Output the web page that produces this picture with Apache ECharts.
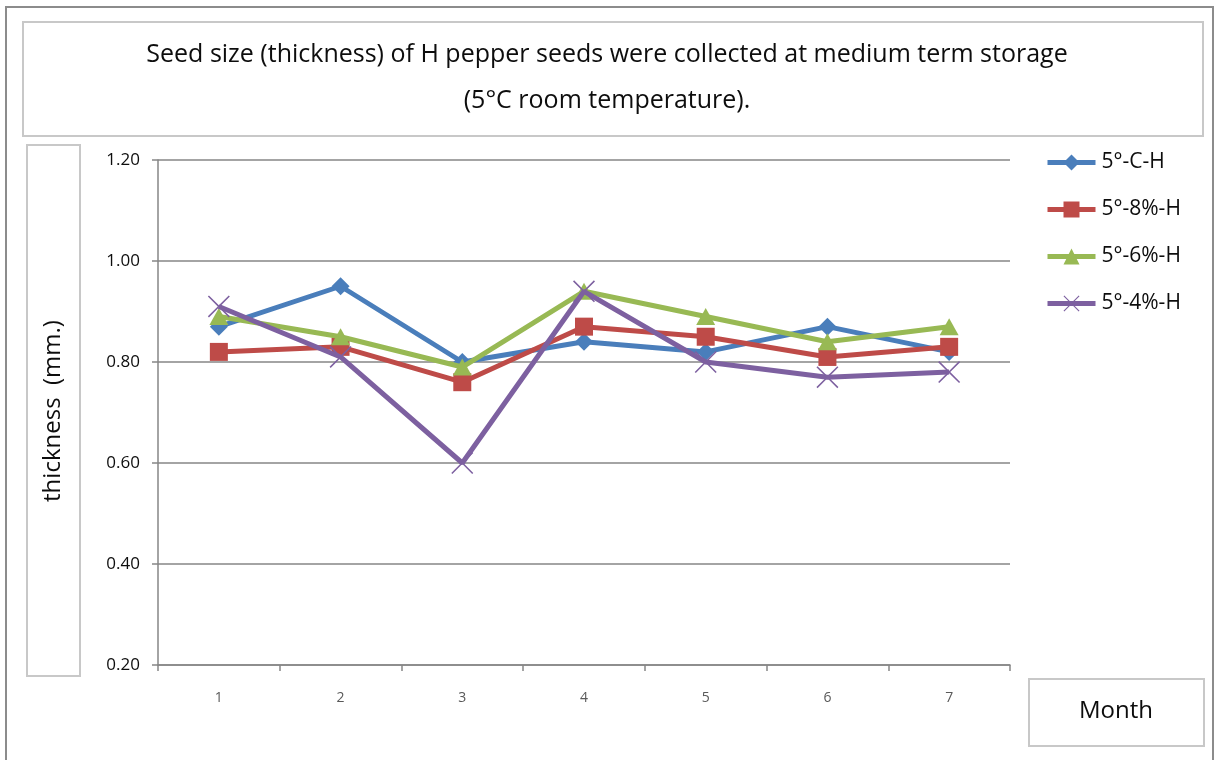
<!DOCTYPE html>
<html>
<head>
<meta charset="utf-8">
<script src="https://cdn.jsdelivr.net/npm/echarts@6/dist/echarts.min.js"></script>
<style>
  html, body { margin: 0; padding: 0; background: #fff; }
  #chart { width: 1216px; height: 760px; }
</style>
</head>
<body>
<div id="chart"></div>
<script>
// Months of medium term storage
const months = ['1', '2', '3', '4', '5', '6', '7'];
// Seed thickness (mm.) per treatment
const seriesNames = ['5°-C-H', '5°-8%-H', '5°-6%-H', '5°-4%-H'];
const thicknessC = [0.87, 0.95, 0.80, 0.84, 0.82, 0.87, 0.82];
const thickness8 = [0.82, 0.83, 0.76, 0.87, 0.85, 0.81, 0.83];
const thickness6 = [0.89, 0.85, 0.79, 0.94, 0.89, 0.84, 0.87];
const thickness4 = [0.91, 0.81, 0.60, 0.94, 0.80, 0.77, 0.78];
// Y axis tick range
const yMin = 0.2, yMax = 1.2, yStep = 0.2;

const colors = ['#4A7EBB', '#BE4B48', '#98B954', '#7D60A0'];
const crossPath = 'path://M0,1 L1,0 L10,9 L19,0 L20,1 L11,10 L20,19 L19,20 L10,11 L1,20 L0,19 L9,10 Z';
const symbols = ['diamond', 'rect', 'triangle', crossPath];
const symbolSizes = [[18, 18], [18, 18], [19, 17], [22, 22]];
const dataSets = [thicknessC, thickness8, thickness6, thickness4];

const FONT = '"Open Sans", "Noto Sans", sans-serif';
const INK = '#0d0d0d';

const chart = echarts.init(document.getElementById('chart'), null, { renderer: 'canvas' });

const boxStyle = { fill: '#fff', stroke: '#c8c8c8', lineWidth: 2 };

chart.setOption({
  backgroundColor: '#fff',
  animation: false,
  color: colors,
  graphic: [
    // outer frame
    { type: 'rect', shape: { x: 6, y: 7, width: 1207, height: 800 }, style: { fill: 'none', stroke: '#8c8c8c', lineWidth: 2 }, z: 0 },
    // title box
    { type: 'rect', shape: { x: 23, y: 22, width: 1180, height: 114 }, style: boxStyle, z: 1 },
    { type: 'text', x: 607, y: 55, style: { text: 'Seed size (thickness) of H pepper seeds were collected at medium term storage', font: '25px ' + FONT, fill: INK, align: 'center', verticalAlign: 'middle' }, z: 2 },
    { type: 'text', x: 607, y: 101, style: { text: '(5°C room temperature).', font: '25px ' + FONT, fill: INK, align: 'center', verticalAlign: 'middle' }, z: 2 },
    // y axis title box
    { type: 'rect', shape: { x: 27, y: 145, width: 53, height: 531 }, style: boxStyle, z: 1 },
    { type: 'text', x: 53, y: 411, rotation: Math.PI / 2, style: { text: 'thickness  (mm.)', font: '24px ' + FONT, fill: INK, align: 'center', verticalAlign: 'middle' }, z: 2 },
    // x axis title box
    { type: 'rect', shape: { x: 1029, y: 679, width: 175, height: 67 }, style: boxStyle, z: 1 },
    { type: 'text', x: 1116, y: 711, style: { text: 'Month', font: '24px ' + FONT, fill: INK, align: 'center', verticalAlign: 'middle' }, z: 2 }
  ],
  legend: {
    orient: 'vertical',
    left: 1045,
    top: 152,
    padding: 0,
    itemGap: 26,
    itemWidth: 48,
    itemHeight: 20,
    lineStyle: { width: 5 },
    textStyle: { fontFamily: FONT, fontSize: 21, lineHeight: 20, color: INK, padding: [0, 0, 0, 1] },
    data: seriesNames
  },
  grid: { left: 158, top: 160, width: 852, height: 505, containLabel: false },
  xAxis: {
    type: 'category',
    data: months,
    boundaryGap: true,
    axisLine: { lineStyle: { color: '#868686', width: 1.5 } },
    axisTick: { show: true, length: 6, lineStyle: { color: '#868686', width: 1.5 } },
    axisLabel: { fontFamily: FONT, fontSize: 14, color: '#595959', margin: 26 }
  },
  yAxis: {
    type: 'value',
    min: yMin,
    max: yMax,
    interval: yStep,
    axisLine: { show: true, lineStyle: { color: '#868686', width: 1.5 } },
    axisTick: { show: true, length: 6, lineStyle: { color: '#868686', width: 1.5 } },
    axisLabel: { fontFamily: FONT, fontSize: 17, color: INK, margin: 18, formatter: v => v.toFixed(2) },
    splitLine: { lineStyle: { color: '#868686', width: 1.5 } }
  },
  series: seriesNames.map((name, i) => ({
    name: name,
    type: 'line',
    data: dataSets[i],
    symbol: symbols[i],
    symbolSize: symbolSizes[i],
    showAllSymbol: true,
    lineStyle: { width: 5, color: colors[i] },
    itemStyle: { color: colors[i] },
    z: 3 + i
  }))
});
</script>
</body>
</html>
